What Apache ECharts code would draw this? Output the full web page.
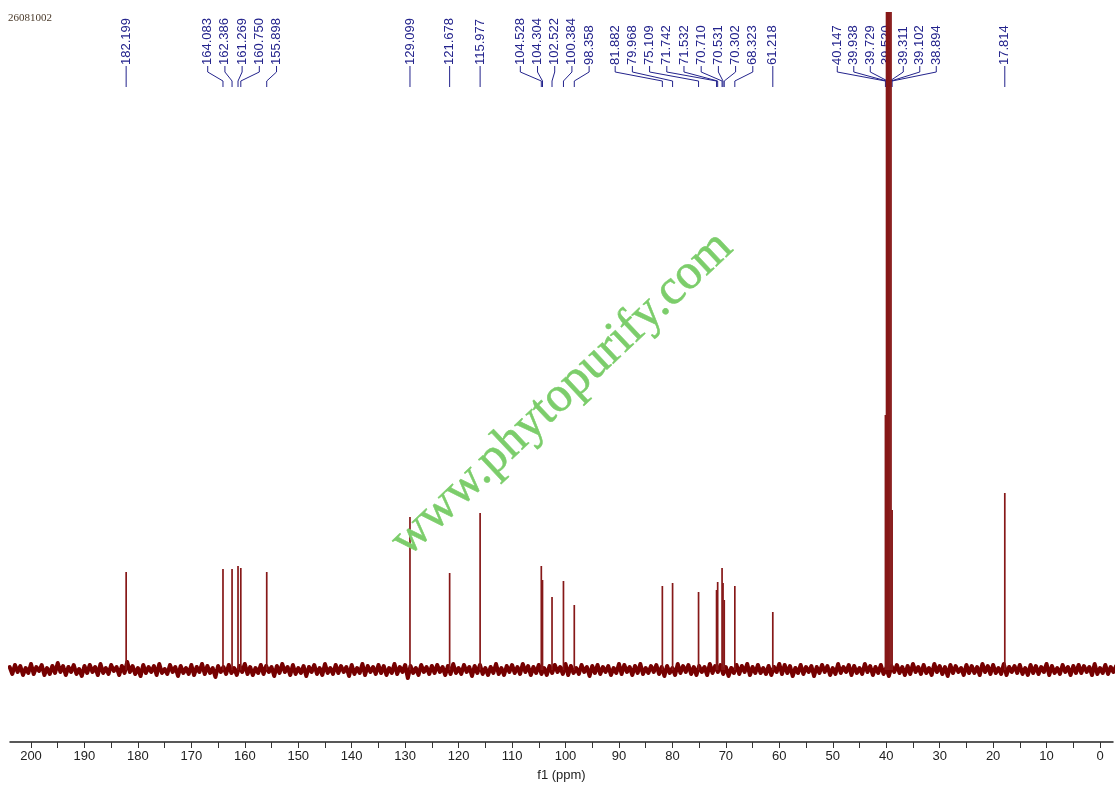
<!DOCTYPE html>
<html>
<head>
<meta charset="utf-8">
<script src="https://cdn.jsdelivr.net/npm/echarts@6/dist/echarts.min.js"></script>
<style>
html,body{margin:0;padding:0;background:#fff;}
#c{width:1119px;height:789px;}
</style>
</head>
<body>
<div id="c"></div>
<script>
// ---- data ----
const sampleId = '26081002';
const axisName = 'f1 (ppm)';
const peakPpm = [182.199, 164.083, 162.386, 161.269, 160.750, 155.898, 129.099, 121.678, 115.977,
  104.528, 104.304, 102.522, 100.384, 98.358, 81.882, 79.968, 75.109, 71.742, 71.532, 70.710,
  70.531, 70.302, 68.323, 61.218, 40.147, 39.938, 39.729, 39.520, 39.311, 39.102, 38.894, 17.814];
const peakHeight = [98, 101, 101, 104, 102, 98, 153, 97, 157,
  104, 90, 73, 89, 65, 84, 87, 78, 80, 88, 102,
  87, 70, 84, 58, 255, 700, 720, 730, 715, 690, 160, 177];
// baseline noise, one value every 0.5 ppm starting at 204 ppm
const noiseStart = 204, noiseStep = 0.5;
const noiseVals = [
 3,-4,5,-2,4,-5,2,-3,6,-4,3,-1,5,-5,2,-4,4,-3,7,-2,
 4,-5,3,-2,5,-4,1,-6,4,-3,5,-2,3,-5,6,-3,2,-4,5,-1,
 3,-5,4,-3,8,-2,4,-4,2,-6,5,-3,3,-2,4,-5,6,-3,1,-4,
 5,-2,3,-6,4,-3,2,-4,5,-5,3,-2,6,-4,4,-3,2,-7,4,-2,
 3,-4,5,-3,2,-5,4,-2,6,-4,3,-5,2,-3,5,-4,4,-2,3,-6,
 4,-3,6,-2,3,-5,5,-4,2,-3,4,-6,3,-2,5,-4,2,-5,6,-3,
 2,-4,5,-3,4,-2,3,-6,5,-4,2,-3,6,-5,4,-2,3,-4,5,-3,
 4,-5,2,-3,6,-4,3,-2,5,-8,4,-3,2,-5,5,-2,3,-4,4,-3,
 5,-2,3,-5,4,-4,6,-3,2,-4,5,-2,3,-6,4,-3,5,-4,2,-5,
 3,-3,6,-4,2,-5,4,-2,5,-3,3,-4,6,-2,4,-5,3,-3,5,-4,
 2,-5,4,-3,5,-2,3,-4,6,-5,4,-3,2,-4,5,-2,3,-6,4,-3,
 5,-4,3,-2,4,-5,2,-3,6,-4,5,-2,3,-5,4,-3,6,-4,2,-3,
 4,-2,5,-4,3,-6,4,-3,2,-5,6,-3,4,-2,5,-4,3,-5,4,-2,
 3,-5,6,-3,4,-2,5,-4,3,-6,2,-3,5,-4,4,-2,6,-5,3,-3,
 5,-3,2,-4,4,-5,3,-2,6,-4,5,-3,4,-6,2,-3,5,-4,3,-2,
 4,-6,3,-3,5,-2,4,-5,2,-4,6,-3,3,-2,5,-5,4,-3,2,-4,
 6,-2,4,-5,3,-3,5,-4,2,-6,4,-2,5,-3,3,-5,4,-4,6,-2,
 3,-4,5,-3,2,-5,6,-2,4,-4,3,-6,5,-3,4,-2,2,-5,5,-3,
 4,-3,3,-5,6,-2,4,-4,5,-3,2,-4,6,-5,3,-2,4,-3,5,-4,
 2,-5,5,-3,4,-4,3,-2,6,-5,4,-3,2,-4,5,-2,3,-5,4,-3,
 5,-3,4,-2,3,-5,6,-4,2,-3,5,-4,3,-2,4,-6,5,-3,4,-2
];
const majorTicks = [200,190,180,170,160,150,140,130,120,110,100,90,80,70,60,50,40,30,20,10,0];
const minorTicks = [200,195,190,185,180,175,170,165,160,155,150,145,140,135,130,125,120,115,110,105,
  100,95,90,85,80,75,70,65,60,55,50,45,40,35,30,25,20,15,10,5,0];
const watermark = 'www.phytopurify.com';

// ---- chart ----
const chart = echarts.init(document.getElementById('c'), null, {renderer: 'canvas'});
const noiseData = noiseVals.map((v, i) => [noiseStart - i * noiseStep, v]);
const peakData = peakPpm.map((p, i) => [p, peakHeight[i]]);
const RED = '#760000';

chart.setOption({
  animation: false,
  backgroundColor: '#ffffff',
  grid: {left: 10, right: 6, top: 12, bottom: 47, containLabel: false},
  xAxis: {
    type: 'value', inverse: true, min: -2.43, max: 203.93,
    name: axisName, nameLocation: 'middle', nameGap: 27,
    nameTextStyle: {fontFamily: 'Liberation Sans, Arial', fontSize: 13, color: '#222'},
    splitLine: {show: false},
    axisLine: {onZero: false, lineStyle: {color: '#222', width: 1.5}},
    axisTick: {show: true, customValues: minorTicks, length: 6, inside: false, lineStyle: {color: '#333', width: 1}},
    axisLabel: {customValues: majorTicks, margin: 8, fontFamily: 'Liberation Sans, Arial', fontSize: 13, color: '#222',
      formatter: v => String(Math.round(v))}
  },
  yAxis: {type: 'value', show: false, min: -72, max: 658, splitLine: {show: false}},
  series: [
    {
      type: 'line', data: noiseData, showSymbol: false, symbol: 'none', z: 4,
      lineStyle: {color: RED, width: 4, join: 'round', cap: 'round'}, clip: true
    },
    {
      type: 'custom', data: peakData, z: 5, clip: true,
      renderItem: function (params, api) {
        const top = api.coord([api.value(0), api.value(1)]);
        const base = api.coord([api.value(0), 0]);
        return {
          type: 'line',
          shape: {x1: top[0], y1: top[1], x2: base[0], y2: base[1]},
          style: {stroke: '#861818', lineWidth: 1.7}
        };
      }
    }
  ]
});

function buildAnnotations() {
  const px = peakPpm.map(p => chart.convertToPixel({xAxisIndex: 0, yAxisIndex: 0}, [p, 0])[0]);
  const clusters = [];
  let cur = [0];
  for (let i = 1; i < px.length; i++) {
    if (px[i] - px[i - 1] > 28) { clusters.push(cur); cur = [i]; } else cur.push(i);
  }
  clusters.push(cur);
  // layout tweaks per cluster (label block offset in px and spacing)
  const shift = [0, 2, 0, 0, 0, 0, -24, 0, -2, 0];
  const gap = [17.2, 17.2, 17.2, 17.2, 17.2, 17.2, 17.2, 17.2, 16.5, 17.2];
  const elems = [];
  const BLUE = '#23238c';
  const textBottom = 65, bend1 = 72, bend2 = 81, lineEnd = 87;
  clusters.forEach((cl, ci) => {
    const mean = cl.reduce((s, i) => s + px[i], 0) / cl.length + (shift[ci] || 0);
    const g = gap[ci] || 17.2;
    cl.forEach((idx, k) => {
      const lx = mean + (k - (cl.length - 1) / 2) * g;
      elems.push({
        type: 'text', z: 1, x: lx, y: textBottom, rotation: Math.PI / 2,
        style: {text: peakPpm[idx].toFixed(3), fill: BLUE, font: '13px "Liberation Sans", Arial',
          textAlign: 'left', textVerticalAlign: 'middle'}
      });
      elems.push({
        type: 'polyline', z: 1,
        shape: {points: [[lx, textBottom + 1], [lx, bend1], [px[idx], bend2], [px[idx], lineEnd]]},
        style: {stroke: BLUE, lineWidth: 1, fill: null}
      });
    });
  });
  elems.push({
    type: 'text', z: 1, x: 8, y: 18,
    style: {text: sampleId, fill: '#4a3a2a', font: '11px "Liberation Serif", "Times New Roman"',
      textAlign: 'left', textVerticalAlign: 'middle'}
  });
  elems.push({
    type: 'text', z: 10, x: 562, y: 394, rotation: 0.756,
    style: {text: watermark, fill: '#7ccd6b', font: '50px "Liberation Serif", "Times New Roman"',
      textAlign: 'center', textVerticalAlign: 'middle', stroke: '#86d476', lineWidth: 0.6,
      textShadowColor: 'rgba(110,210,200,0.9)', textShadowOffsetX: 1, textShadowOffsetY: 1, textShadowBlur: 0}
  });
  chart.setOption({graphic: {elements: elems}});
}
buildAnnotations();
</script>
</body>
</html>
